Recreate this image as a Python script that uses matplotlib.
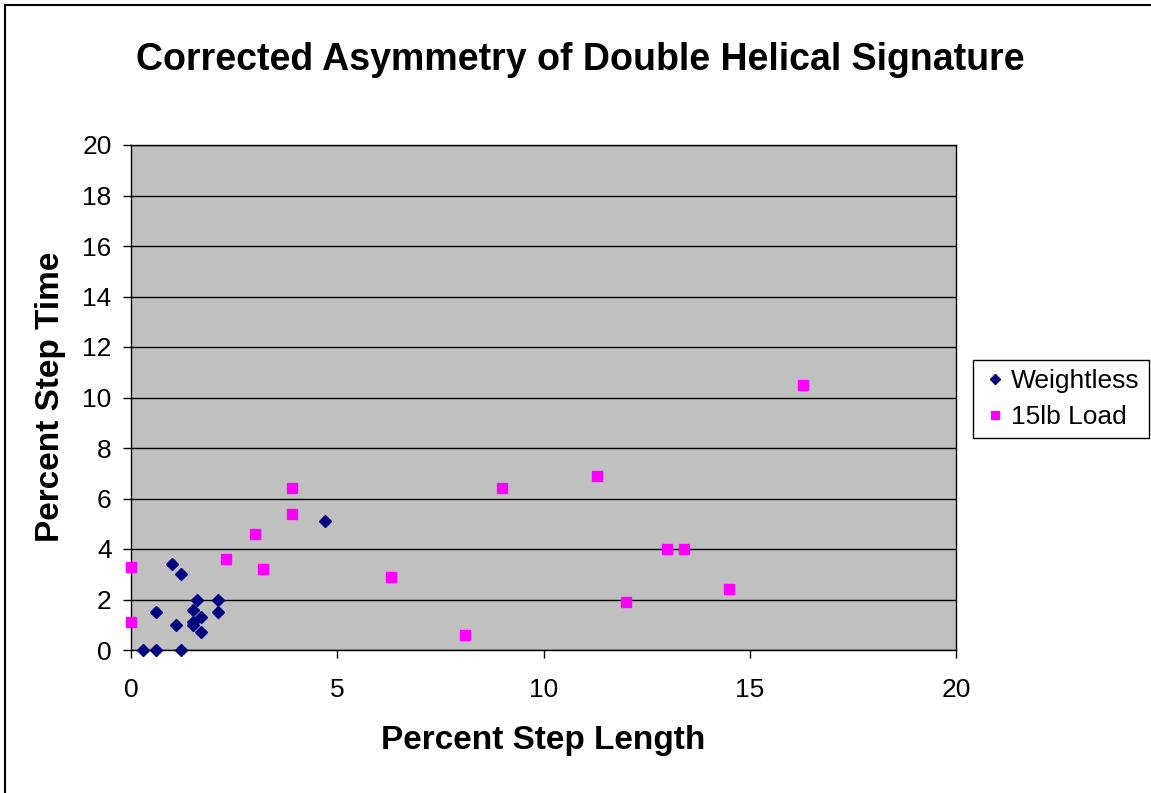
import matplotlib
matplotlib.use("Agg")
import matplotlib.pyplot as plt
from matplotlib.lines import Line2D

plt.rcParams['font.family'] = ['Liberation Sans', 'DejaVu Sans']

title = "Corrected Asymmetry of Double Helical Signature"
xlabel = "Percent Step Length"
ylabel = "Percent Step Time"

weightless_x = [0.3, 0.6, 1.2, 0.6, 1.0, 1.2, 1.6, 2.1, 1.5, 2.1, 1.7, 1.5, 1.5, 1.1, 1.7, 4.7]
weightless_y = [0.0, 0.0, 0.0, 1.5, 3.4, 3.0, 2.0, 2.0, 1.6, 1.5, 1.3, 1.1, 1.0, 1.0, 0.7, 5.1]

load_x = [0.0, 0.0, 2.3, 3.0, 3.2, 3.9, 3.9, 6.3, 8.1, 9.0, 16.3, 11.3, 13.0, 13.4, 14.5, 12.0]
load_y = [3.3, 1.1, 3.6, 4.6, 3.2, 5.4, 6.4, 2.9, 0.6, 6.4, 10.5, 6.9, 4.0, 4.0, 2.4, 1.9]

xticks = [0, 5, 10, 15, 20]
yticks = [0, 2, 4, 6, 8, 10, 12, 14, 16, 18, 20]

W, H = 1151, 793
fig = plt.figure(figsize=(W / 100, H / 100), dpi=100)
fig.patch.set_facecolor('white')

left, right, top, bottom = 131, 956, 145, 650
ax = fig.add_axes([left / W, 1 - bottom / H, (right - left) / W, (bottom - top) / H])
ax.set_facecolor('#C0C0C0')
ax.set_xlim(0, 20)
ax.set_ylim(0, 20)
ax.set_xticks(xticks)
ax.set_yticks(yticks)
ax.yaxis.grid(True, color='black', linewidth=1.0)
ax.set_axisbelow(True)
for s in ax.spines.values():
    s.set_color('black')
    s.set_linewidth(1.0)
ax.tick_params(axis='both', direction='out', length=6, width=1, labelsize=19, colors='black')
ax.tick_params(axis='x', pad=14)
ax.tick_params(axis='y', pad=8)

ax.plot(weightless_x, weightless_y, linestyle='none', marker='D', markersize=6.5,
        color='#000080', markeredgecolor='#000080', label='Weightless', clip_on=False, zorder=3)
ax.plot(load_x, load_y, linestyle='none', marker='s', markersize=7,
        color='#FF00FF', markeredgecolor='#FF00FF', label='15lb Load', clip_on=False, zorder=3)

fig.text(543 / W, 1 - 740 / H, xlabel, ha='center', va='center', fontsize=24, fontweight='bold')
fig.text(50 / W, 1 - 397 / H, ylabel, ha='center', va='center', fontsize=24, fontweight='bold',
         rotation=90)
fig.text(580 / W, 1 - 60 / H, title, ha='center', va='center', fontsize=27, fontweight='bold')

leg = fig.legend(loc='upper left', bbox_to_anchor=(973 / W, 1 - 360 / H), fontsize=19,
                 frameon=True, fancybox=False, edgecolor='black', framealpha=1,
                 handletextpad=0.1, handlelength=1.0, borderpad=0.35, labelspacing=0.45,
                 borderaxespad=0, markerscale=0.8)
leg.get_frame().set_linewidth(1.0)

fig.lines.append(Line2D([5 / W, 5 / W], [0, 1 - 5 / H], transform=fig.transFigure,
                        color='black', linewidth=1.5))
fig.lines.append(Line2D([5 / W, 1], [1 - 5 / H, 1 - 5 / H], transform=fig.transFigure,
                        color='black', linewidth=1.5))

fig.savefig('out.png', dpi=100)
